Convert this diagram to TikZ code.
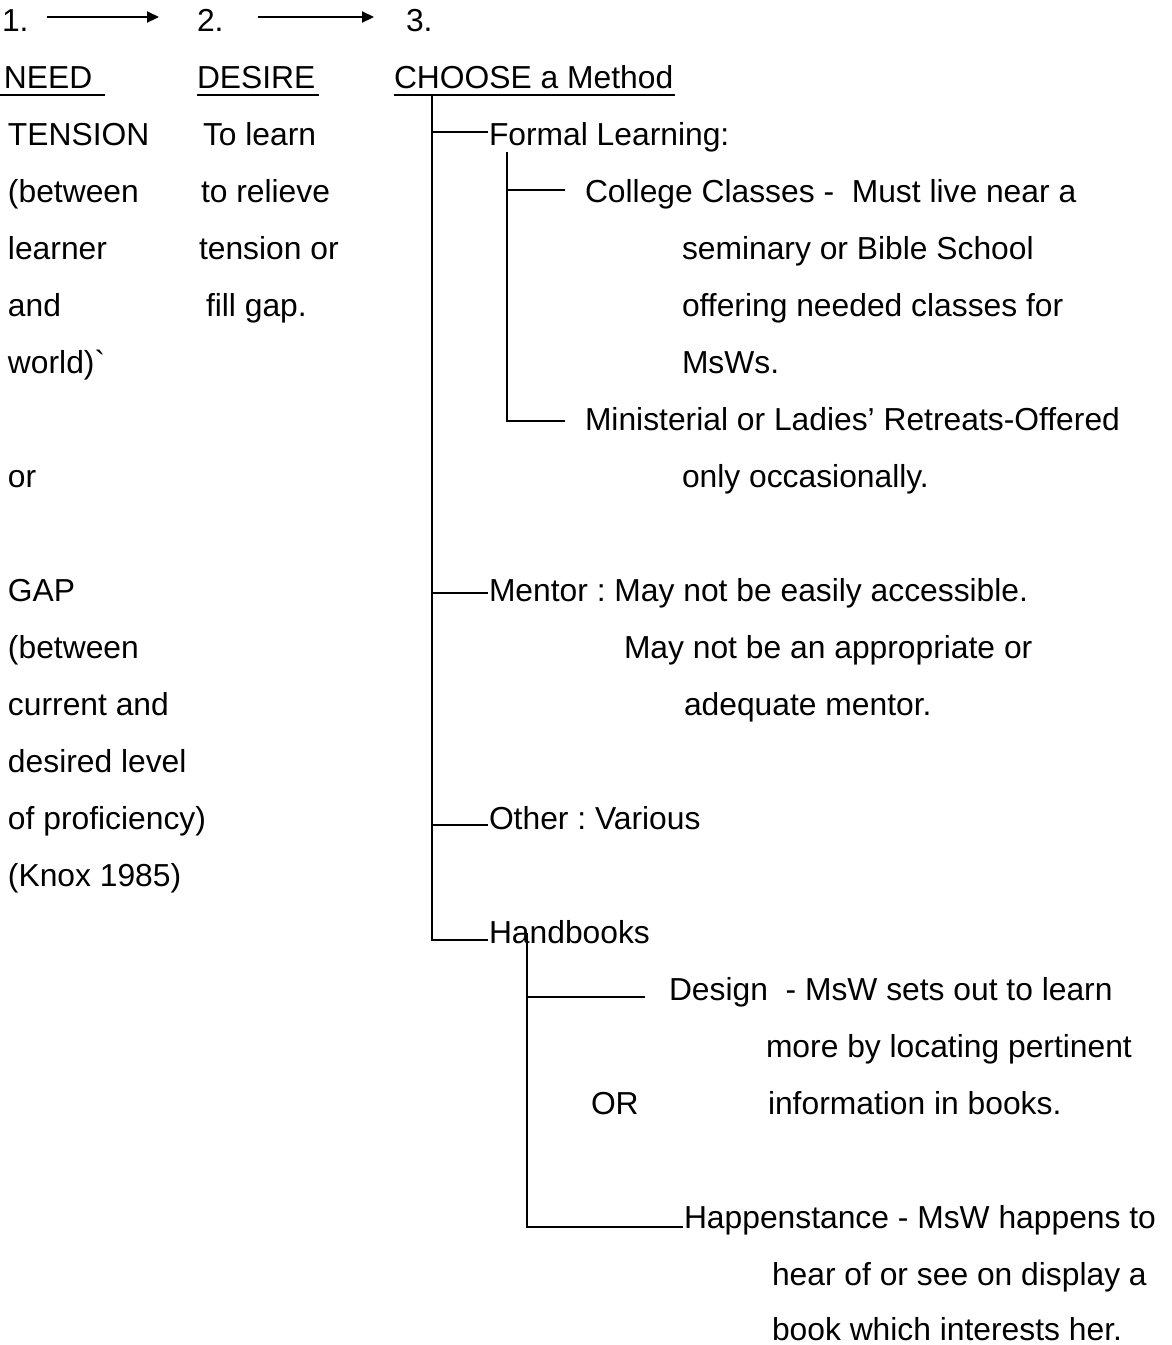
\documentclass[tikz,border=0pt]{standalone}
\usepackage{fontspec}
\setmainfont{Liberation Sans}
\usetikzlibrary{arrows.meta}
\tikzset{
  txt/.style={anchor=base west, inner sep=0pt, outer sep=0pt, font=\fontsize{31.8}{38}\selectfont\frenchspacing},
  tree/.style={line width=2.6pt},
  ul/.style={line width=2.2pt},
  arr/.style={line width=2.2pt, -{Triangle[length=12pt,width=11pt]}},
}
\begin{document}
\begin{tikzpicture}[x=1pt,y=-1pt]
\useasboundingbox (0,0) rectangle (1171,1345);
% header
\node[txt] (n1) at (2,31) {1.};
\node[txt] (n2) at (197,31) {2.};
\node[txt] (n3) at (406,31) {3.};
\coordinate (a1s) at (47,17);  \coordinate (a1e) at (159,17);
\coordinate (a2s) at (258,17); \coordinate (a2e) at (374,17);
\draw[arr] (a1s) -- (a1e);
\draw[arr] (a2s) -- (a2e);
\node[txt] (need) at (4,88) {NEED};
\node[txt] (desire) at (197,88) {DESIRE};
\node[txt] (choose) at (394,88) {CHOOSE a Method};
\draw[ul] (0,95) -- (105,95);
\draw[ul] (197,95) -- (319,95);
\draw[ul] (394,95) -- (675,95);
% left column
\node[txt] (l0) at (8,145) {TENSION};
\node[txt] (l1) at (8,202) {(between};
\node[txt] (l2) at (8,259) {learner};
\node[txt] (l3) at (8,316) {and};
\node[txt] (l4) at (8,373) {world)\textasciigrave};
\node[txt] (l6) at (8,487) {or};
\node[txt] (l8) at (8,601) {GAP};
\node[txt] (l9) at (8,658) {(between};
\node[txt] (l10) at (8,715) {current and};
\node[txt] (l11) at (8,772) {desired level};
\node[txt] (l12) at (8,829) {of proficiency)};
\node[txt] (l13) at (8,886) {(Knox 1985)};
% desire column
\node[txt] (d0) at (203,145) {To learn};
\node[txt] (d1) at (201,202) {to relieve};
\node[txt] (d2) at (199,259) {tension or};
\node[txt] (d3) at (206,316) {fill gap.};
% method tree text
\node[txt] (fl) at (489,145) {Formal Learning:};
\node[txt] (cc) at (585,202) {College Classes -\ \ Must live near a};
\node[txt] (cc2) at (682,259) {seminary or Bible School};
\node[txt] (cc3) at (682,316) {offering needed classes for};
\node[txt] (cc4) at (682,373) {MsWs.};
\node[txt] (mr) at (585,430) {Ministerial or Ladies’ Retreats-Offered};
\node[txt] (mr2) at (682,487) {only occasionally.};
\node[txt] (me) at (489,601) {Mentor : May not be easily accessible.};
\node[txt] (me2) at (624,658) {May not be an appropriate or};
\node[txt] (me3) at (684,715) {adequate mentor.};
\node[txt] (ot) at (489,829) {Other : Various};
\node[txt] (hb) at (489,943) {Handbooks};
\node[txt] (de) at (669,1000) {Design\ \ - MsW sets out to learn};
\node[txt] (de2) at (766,1057) {more by locating pertinent};
\node[txt] (or) at (591,1114) {OR};
\node[txt] (de3) at (768,1114) {information in books.};
\node[txt] (hp) at (684,1228) {Happenstance - MsW happens to};
\node[txt] (hp2) at (772,1285) {hear of or see on display a};
\node[txt] (hp3) at (772,1340) {book which interests her.};
% trunk
\coordinate (t0) at (432,96);
\coordinate (tfl) at (488,132);
\coordinate (tme) at (488,593);
\coordinate (tot) at (488,825);
\coordinate (thb) at (488,940);
\draw[tree] (t0) |- (thb);
\draw[tree] (t0 |- tfl) -- (tfl);
\draw[tree] (t0 |- tme) -- (tme);
\draw[tree] (t0 |- tot) -- (tot);
% formal subtree
\coordinate (f0) at (507,152);
\coordinate (fcc) at (565,190);
\coordinate (fmr) at (565,421);
\draw[tree] (f0) |- (fmr);
\draw[tree] (f0 |- fcc) -- (fcc);
% handbooks subtree
\coordinate (h0) at (527,933);
\coordinate (hde) at (645,997);
\coordinate (hhp) at (683,1227);
\draw[tree] (h0) |- (hhp);
\draw[tree] (h0 |- hde) -- (hde);
\end{tikzpicture}
\end{document}
